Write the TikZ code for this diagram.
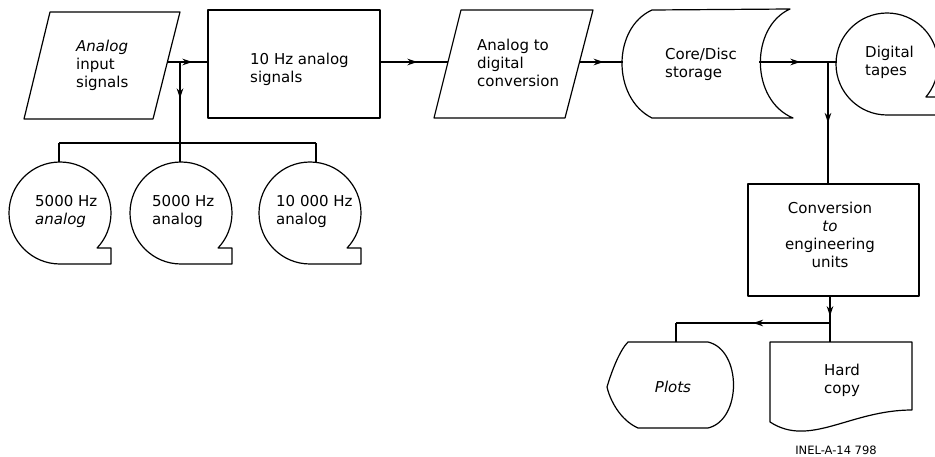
\documentclass[tikz,border=0pt]{standalone}
\usepackage{fontspec}
\setmainfont{DejaVu Sans}
\usetikzlibrary{arrows.meta,decorations.markings}
\tikzset{
  conn/.style={line width=1.9pt},
  outline/.style={line width=1.2pt, line join=round},
  marr/.style={postaction={decorate}, decoration={markings, mark=at position #1 with {\arrow{Stealth[length=10pt,width=6.5pt]}}}},
  lbl/.style={font=\fontsize{15}{18}\selectfont, inner sep=0pt, align=left, anchor=west},
  clbl/.style={font=\fontsize{15}{18}\selectfont, inner sep=0pt, align=center},
}
\begin{document}
\begin{tikzpicture}[x=1pt,y=1pt]
\useasboundingbox (0,0) rectangle (935,456);
\clip (0,0) rectangle (935,456);
% ---- shapes ----
% Analog input signals (parallelogram)
\draw[outline] (50,444) -- (180,444) -- (153,337) -- (24,337) -- cycle;
\node[lbl] (tin) at (76,391) {\itshape Analog\\input\\signals};
% 10 Hz analog signals (box)
\draw[outline] (208,338) rectangle (380,446);
\node[lbl] (t10) at (250,387) {10 Hz analog\\signals};
% Analog to digital conversion (parallelogram)
\draw[outline] (461,446) -- (593,446) -- (565,338) -- (434,338) -- cycle;
\node[lbl] (tad) at (477,393) {Analog to\\digital\\conversion};
% Core/Disc storage
\draw[outline] (652,446) -- (790,447) .. controls (750,429) and (750,356) .. (793,338)
  -- (652,338) .. controls (612,358) and (612,428) .. (652,446) -- cycle;
\node[lbl] (tcd) at (665,392) {Core/Disc\\storage};
% Digital tapes (tape symbol)
\draw[outline] (887,341) arc[start angle=270, end angle=-40.3, radius=51] -- (938,359) -- (938,341) -- cycle;
\node[lbl] (tdt) at (865,394) {Digital\\tapes};
% three analog tapes
\foreach \cx in {60,181,310}{
  \draw[outline] (\cx,192) arc[start angle=270, end angle=-43.3, radius=51] -- (\cx+51,208) -- (\cx+51,192) -- cycle;
}
\node[lbl] (tb1) at (35,245) {5000 Hz\\\itshape analog};
\node[lbl] (tb2) at (152,245) {5000 Hz\\analog};
\node[lbl] (tb3) at (276,245) {10 000 Hz\\analog};
% Conversion to engineering units
\draw[outline] (748,160) rectangle (919,272);
\node[clbl] (tce) at (830,221) {Conversion\\\itshape to\\engineering\\units};
% Plots (display)
\draw[outline] (628,114) -- (708,114) .. controls (742,106) and (742,36) .. (708,28)
  -- (638,28) .. controls (620,36) and (610,56) .. (607,69)
  .. controls (612,86) and (620,106) .. (628,114) -- cycle;
\node[clbl] (tpl) at (673,69) {\itshape Plots};
% Hard copy (document)
\draw[outline] (770,114) -- (912,114) -- (912,46) .. controls (850,46) and (810,8) .. (770,34) -- cycle;
\node[clbl] (thc) at (842,76) {Hard\\copy};
% label
\node[inner sep=0pt, font=\fontsize{11.5}{13}\selectfont] (inel) at (836,6) {INEL-A-14 798};
% ---- connection points ----
\coordinate (p1r) at (167,394);
\coordinate (j1) at (180,394);
\coordinate (r1l) at (208,394);
\coordinate (r1r) at (380,394);
\coordinate (p2l) at (448,394);
\coordinate (p2r) at (580,394);
\coordinate (cdl) at (623,394);
\coordinate (cdr) at (759,394);
\coordinate (j2) at (828,394);
\coordinate (dtl) at (837,394);
\coordinate (barm) at (180,313);
\coordinate (barl) at (59,313);
\coordinate (barr) at (316,313);
\coordinate (b1t) at (59,294);
\coordinate (b2t) at (180,294);
\coordinate (b3t) at (316,293);
\coordinate (cet) at (828,272);
\coordinate (ceb) at (830,160);
\coordinate (j3) at (830,133);
\coordinate (j4) at (676,133);
\coordinate (plt) at (676,114);
\coordinate (hct) at (830,114);
% ---- connectors ----
\draw[conn, marr=0.62] (p1r) -- (r1l);
\draw[conn, marr=0.45] (j1) -- (barm);
\draw[conn] (barm) -- (b2t);
\draw[conn] (barl) -- (barr);
\draw[conn] (barl) -- (b1t);
\draw[conn] (barr) -- (b3t);
\draw[conn, marr=0.55] (r1r) -- (p2l);
\draw[conn, marr=0.55] (p2r) -- (cdl);
\draw[conn, marr=0.6] (cdr) -- (j2);
\draw[conn] (j2) -- (dtl);
\draw[conn, marr=0.5] (j2) -- (cet);
\draw[conn, marr=0.75] (ceb) -- (j3);
\draw[conn, marr=0.5] (j3) -- (j4);
\draw[conn] (j4) -- (plt);
\draw[conn] (j3) -- (hct);
\end{tikzpicture}
\end{document}
